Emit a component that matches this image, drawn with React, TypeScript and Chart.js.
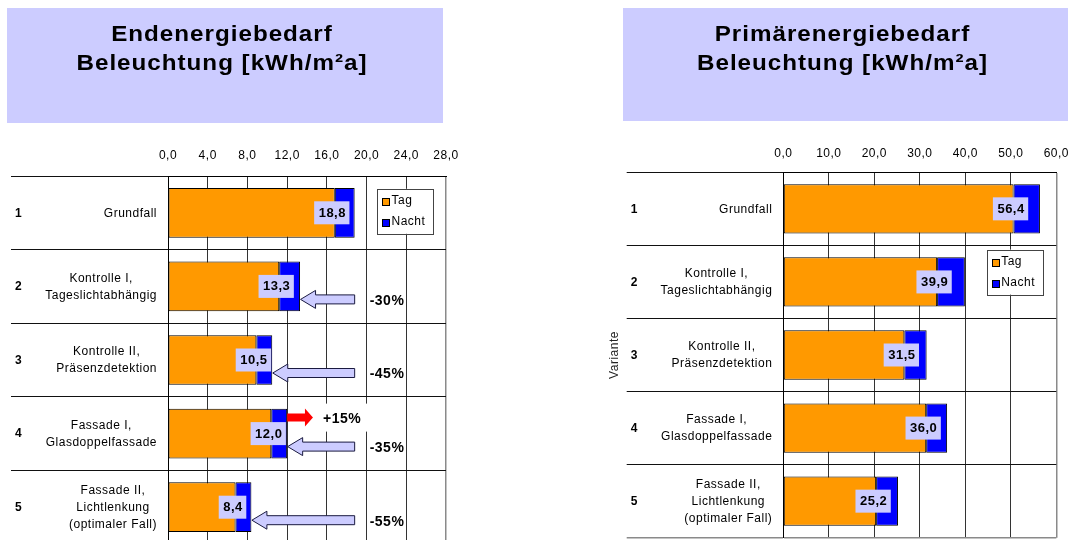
import React, { useEffect, useRef } from 'react';
import { Chart, registerables } from 'chart.js';

Chart.register(...registerables);

const FONT = '"Liberation Sans", Arial, Helvetica, sans-serif';

// Varianten (Zeilen) und ihre Beschreibungen
const varianten = ['1', '2', '3', '4', '5'];
const beschreibungen: string[][] = [
  ['Grundfall'],
  ['Kontrolle I,', 'Tageslichtabhängig'],
  ['Kontrolle II,', 'Präsenzdetektion'],
  ['Fassade I,', 'Glasdoppelfassade'],
  ['Fassade II,', 'Lichtlenkung', '(optimaler Fall)'],
];
const serien = ['Tag', 'Nacht'];

// Endenergiebedarf Beleuchtung [kWh/m²a]
const endTag = [16.8, 11.2, 8.9, 10.4, 6.8];
const endNacht = [2.0, 2.1, 1.6, 1.6, 1.6];
const endMax = 28;
const endSchritt = 4;

// Primärenergiebedarf Beleuchtung [kWh/m²a]
const primTag = [50.6, 33.8, 26.6, 31.4, 20.4];
const primNacht = [5.8, 6.1, 4.9, 4.6, 4.8];
const primMax = 60;
const primSchritt = 10;

// Veränderung gegenüber dem Grundfall (Endenergie)
const einsparung = ['', '-30%', '-45%', '-35%', '-55%'];
const mehrbedarfVariante = 3;
const mehrbedarfBis = 14.6;
const mehrbedarfText = '+15%';

const ORANGE = '#ff9900';
const BLAU = '#0000ff';
const LAVENDEL = '#ccccff';

const fmt = (v: number) => v.toFixed(1).replace('.', ',');

type PanelSpec = {
  tag: number[];
  nacht: number[];
  max: number;
  step: number;
  width: number;
  height: number;
  padLeft: number;
  plotLeft: number;
  plotRight: number;
  plotTop: number;
  plotBottom: number;
  rowLineStart: number;
  tickPadding: number;
  yTitle?: string;
  legend: { x: number; row: number; dy: number };
  arrows: boolean;
};

function panelPlugin(spec: PanelSpec) {
  const totals = spec.tag.map((t, i) => t + spec.nacht[i]);
  return {
    id: 'panelDeko',
    beforeDraw(chart: any) {
      chart.ctx.letterSpacing = '0.5px';
    },
    afterDatasetsDraw(chart: any) {
      const { ctx } = chart;
      const xs = chart.scales.x;
      const ys = chart.scales.y;
      ctx.save();

      // Pfeile mit Veränderung gegenüber dem Grundfall
      if (spec.arrows) {
        const xTail = xs.getPixelForValue(totals[0]);
        for (let i = 1; i < totals.length; i++) {
          if (!einsparung[i]) continue;
          const xTip = xs.getPixelForValue(totals[i]) + 0.5;
          const y = ys.getPixelForValue(i) + 13;
          ctx.beginPath();
          ctx.moveTo(xTip, y);
          ctx.lineTo(xTip + 15, y - 9);
          ctx.lineTo(xTip + 15, y - 4.5);
          ctx.lineTo(xTail, y - 4.5);
          ctx.lineTo(xTail, y + 4.5);
          ctx.lineTo(xTip + 15, y + 4.5);
          ctx.lineTo(xTip + 15, y + 9);
          ctx.closePath();
          ctx.fillStyle = LAVENDEL;
          ctx.fill();
          ctx.strokeStyle = '#1a1a40';
          ctx.lineWidth = 1;
          ctx.stroke();
          ctx.fillStyle = '#000';
          ctx.font = `bold 14px ${FONT}`;
          ctx.textAlign = 'left';
          ctx.textBaseline = 'middle';
          ctx.fillText(einsparung[i], xTail + 15, y + 1.5);
        }

        // Mehrbedarf (roter Pfeil)
        const m = mehrbedarfVariante;
        const x0 = xs.getPixelForValue(totals[m]);
        const x1 = xs.getPixelForValue(mehrbedarfBis);
        const yr = ys.getPixelForValue(m) - 16;
        ctx.fillStyle = '#fff';
        ctx.fillRect(x1 + 4, yr - 14, 52, 28);
        ctx.beginPath();
        ctx.moveTo(x1, yr);
        ctx.lineTo(x1 - 8, yr - 9);
        ctx.lineTo(x1 - 8, yr - 4);
        ctx.lineTo(x0, yr - 4);
        ctx.lineTo(x0, yr + 4);
        ctx.lineTo(x1 - 8, yr + 4);
        ctx.lineTo(x1 - 8, yr + 9);
        ctx.closePath();
        ctx.fillStyle = '#ff0000';
        ctx.fill();
        ctx.fillStyle = '#000';
        ctx.font = `bold 14px ${FONT}`;
        ctx.textAlign = 'left';
        ctx.textBaseline = 'middle';
        ctx.fillText(mehrbedarfText, x1 + 10, yr + 1.5);
      }

      // Summenwerte auf den Balken
      ctx.font = `bold 13px ${FONT}`;
      ctx.textAlign = 'center';
      ctx.textBaseline = 'middle';
      totals.forEach((tot, i) => {
        const text = fmt(tot);
        const cx = xs.getPixelForValue(spec.tag[i]) - 3;
        const cy = ys.getPixelForValue(i);
        const w = ctx.measureText(text).width + 8;
        ctx.fillStyle = LAVENDEL;
        ctx.fillRect(cx - w / 2, cy - 11.5, w, 23);
        ctx.fillStyle = '#000';
        ctx.fillText(text, cx + 0.5, cy + 0.5);
      });
      ctx.restore();
    },
    afterDraw(chart: any) {
      const { ctx, chartArea } = chart;
      const xs = chart.scales.x;
      const ys = chart.scales.y;
      ctx.save();

      // Zeilenbeschriftung: Nummer und Beschreibung
      ctx.fillStyle = '#000';
      ctx.textBaseline = 'middle';
      varianten.forEach((nr, i) => {
        const cy = ys.getPixelForValue(i);
        ctx.font = `bold 12px ${FONT}`;
        ctx.textAlign = 'left';
        ctx.fillText(nr, spec.rowLineStart + 4, cy + 0.5);
        ctx.font = `12px ${FONT}`;
        const lines = beschreibungen[i];
        const w = Math.max(...lines.map((l) => ctx.measureText(l).width));
        const cx = chartArea.left - 11 - w / 2;
        ctx.textAlign = 'center';
        lines.forEach((l, k) => {
          ctx.fillText(l, cx, cy + (k - (lines.length - 1) / 2) * 17 + 0.5);
        });
      });

      // Legende
      const lx = xs.getPixelForValue(spec.legend.x);
      const ly = ys.getPixelForValue(spec.legend.row) + spec.legend.dy;
      ctx.fillStyle = '#fff';
      ctx.fillRect(lx, ly, 56.5, 45);
      ctx.strokeStyle = '#444';
      ctx.lineWidth = 1;
      ctx.strokeRect(Math.round(lx) + 0.5, Math.round(ly) + 0.5, 56, 45);
      const farben = [ORANGE, BLAU];
      serien.forEach((s, k) => {
        const yy = ly + 13 + k * 21;
        ctx.fillStyle = farben[k];
        ctx.fillRect(Math.round(lx) + 5, Math.round(yy - 3.5), 7, 7);
        ctx.strokeStyle = '#000';
        ctx.strokeRect(Math.round(lx) + 5.5, Math.round(yy - 3.5) + 0.5, 7, 7);
        ctx.fillStyle = '#000';
        ctx.font = `12px ${FONT}`;
        ctx.textAlign = 'left';
        ctx.textBaseline = 'middle';
        ctx.fillText(s, lx + 14, yy - 1);
      });
      ctx.restore();
    },
  };
}

function buildConfig(spec: PanelSpec): any {
  return {
    type: 'bar',
    data: {
      labels: varianten,
      datasets: [
        {
          label: serien[0],
          data: spec.tag,
          backgroundColor: ORANGE,
          borderColor: '#000',
          borderWidth: 1,
          borderSkipped: false,
        },
        {
          label: serien[1],
          data: spec.nacht,
          backgroundColor: BLAU,
          borderColor: '#000',
          borderWidth: 1,
          borderSkipped: false,
        },
      ],
    },
    options: {
      indexAxis: 'y',
      responsive: false,
      animation: false,
      devicePixelRatio: 1,
      datasets: { bar: { barPercentage: 0.675, categoryPercentage: 1 } },
      layout: {
        padding: {
          left: spec.padLeft,
          top: 0,
          right: spec.width - spec.plotRight,
          bottom: spec.height - spec.plotBottom,
        },
      },
      plugins: {
        legend: { display: false },
        tooltip: { enabled: false },
        title: { display: false },
      },
      scales: {
        x: {
          position: 'top',
          stacked: true,
          min: 0,
          max: spec.max,
          afterFit: (s: any) => {
            s.height = spec.plotTop;
          },
          ticks: {
            stepSize: spec.step,
            padding: spec.tickPadding,
            color: '#000',
            font: { family: FONT, size: 12 },
            maxRotation: 0,
            callback: (v: any) => fmt(Number(v)),
          },
          grid: {
            drawTicks: false,
            color: (c: any) => (c.tick && c.tick.value === spec.max ? '#8a8a8a' : '#333'),
            lineWidth: (c: any) => (c.tick && c.tick.value === spec.max ? 1.5 : 1),
          },
          border: { display: true, color: '#000', width: 1 },
        },
        y: {
          stacked: true,
          afterFit: (s: any) => {
            s.width = spec.plotLeft - spec.padLeft;
          },
          ticks: { display: false },
          title: spec.yTitle
            ? {
                display: true,
                text: spec.yTitle,
                color: '#222',
                font: { family: FONT, size: 12 },
              }
            : { display: false },
          grid: {
            offset: true,
            drawTicks: true,
            tickLength: spec.plotLeft - spec.rowLineStart,
            color: (c: any) => (c.type === 'scale' ? '#8a8a8a' : '#111'),
            lineWidth: (c: any) => (c.type === 'scale' ? 1.5 : 1),
          },
          border: { display: true, color: '#000', width: 1 },
        },
      },
    },
    plugins: [panelPlugin(spec)],
  };
}

const endSpec: PanelSpec = {
  tag: endTag,
  nacht: endNacht,
  max: endMax,
  step: endSchritt,
  width: 540,
  height: 560,
  padLeft: 0,
  plotLeft: 168,
  plotRight: 446,
  plotTop: 176,
  plotBottom: 544,
  rowLineStart: 11,
  tickPadding: 13.5,
  legend: { x: 21.1, row: 0, dy: -24 },
  arrows: true,
};

const primSpec: PanelSpec = {
  tag: primTag,
  nacht: primNacht,
  max: primMax,
  step: primSchritt,
  width: 539,
  height: 560,
  padLeft: 63.8,
  plotLeft: 243.3,
  plotRight: 520,
  plotTop: 172.3,
  plotBottom: 537.7,
  rowLineStart: 86.7,
  tickPadding: 11,
  yTitle: 'Variante',
  legend: { x: 44.8, row: 1, dy: -32.3 },
  arrows: false,
};

function Panel({ spec, left }: { spec: PanelSpec; left: number }) {
  const ref = useRef<HTMLCanvasElement>(null);
  useEffect(() => {
    const chart = new Chart(ref.current as HTMLCanvasElement, buildConfig(spec));
    return () => chart.destroy();
  }, [spec]);
  return (
    <canvas
      ref={ref}
      width={spec.width}
      height={spec.height}
      style={{
        position: 'absolute',
        left,
        top: 0,
        width: spec.width,
        height: spec.height,
      }}
    />
  );
}

function TitleBox({
  lines,
  left,
  width,
  height,
}: {
  lines: string[];
  left: number;
  width: number;
  height: number;
}) {
  return (
    <div
      style={{
        position: 'absolute',
        left,
        top: 8,
        width,
        height,
        boxSizing: 'border-box',
        paddingTop: 10.6,
        background: LAVENDEL,
        color: '#000',
        fontFamily: FONT,
        fontWeight: 'bold',
        fontSize: 22,
        lineHeight: '29px',
        textAlign: 'center',
        zIndex: 2,
      }}
    >
      <div
        style={{
          transform: 'translateX(-3px) scaleX(1.1)',
          transformOrigin: 'center',
          letterSpacing: '0.9px',
        }}
      >
        {lines.map((l) => (
          <div key={l}>{l}</div>
        ))}
      </div>
    </div>
  );
}

export default function App() {
  return (
    <div
      style={{
        position: 'fixed',
        left: 0,
        top: 0,
        width: 1079,
        height: 540,
        overflow: 'hidden',
        background: '#fff',
      }}
    >
      <Panel spec={endSpec} left={0} />
      <Panel spec={primSpec} left={540} />
      <TitleBox lines={['Endenergiebedarf', 'Beleuchtung [kWh/m²a]']} left={7} width={436} height={115} />
      <TitleBox lines={['Primärenergiebedarf', 'Beleuchtung [kWh/m²a]']} left={622.7} width={445} height={113} />
    </div>
  );
}
